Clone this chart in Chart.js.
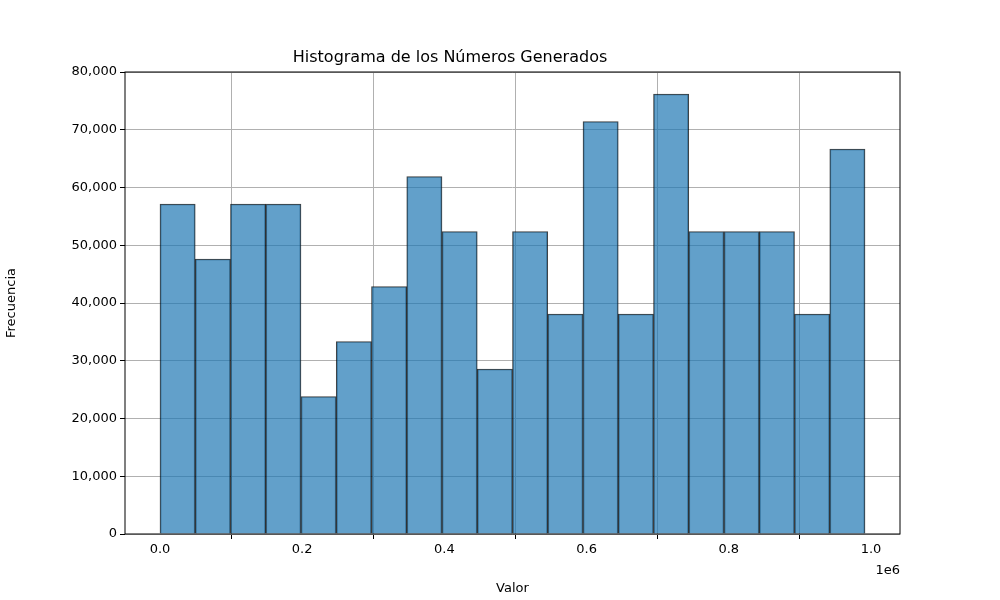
<!DOCTYPE html>
<html><head><meta charset="utf-8">
<script src="https://cdn.jsdelivr.net/npm/chart.js@4"></script>
<style>html,body{margin:0;background:#fff}#w{width:1000px;height:600px}</style>
</head><body><div id="w"><canvas id="c"></canvas></div>
<script>
const binStart = 0;
const binWidth = 49580;
const counts = [57143,47619,57143,57143,23810,33333,42857,61905,52381,28571,52381,38095,71429,38095,76190,52381,52381,52381,38095,66667];
const xTicks = [0,200000,400000,600000,800000,1000000];
const yTicks = [0,10000,20000,30000,40000,50000,60000,70000,80000];
const points = counts.map((v,i)=>({x: binStart + binWidth*(i+0.5), y: v}));
const font = {family:'DejaVu Sans', size:13};
const frame = {id:'frame', afterDraw(ch){const a=ch.chartArea,c=ch.ctx;c.save();c.strokeStyle='#000';c.lineWidth=1;c.strokeRect(a.left,a.top,a.right-a.left,a.bottom-a.top);
 c.fillStyle='#000';c.font='13px DejaVu Sans';c.textAlign='right';c.fillText('1e6',a.right,574);c.restore();}};
new Chart(document.getElementById('c'),{
 type:'bar',
 data:{datasets:[{data:points,backgroundColor:'rgba(31,119,180,0.7)',borderColor:'rgba(0,0,0,0.75)',borderWidth:1,barPercentage:1,categoryPercentage:1}]},
 options:{responsive:true,maintainAspectRatio:false,animation:false,
  layout:{padding:{left:0,right:100,top:0,bottom:0}},
  plugins:{legend:{display:false},tooltip:{enabled:false},
   title:{display:true,text:'Histograma de los Números Generados',color:'#000',font:{family:'DejaVu Sans',size:16,weight:'normal'},padding:{top:48,bottom:4.8}}},
  scales:{
   x:{type:'linear',min:-49200,max:1040800,offset:false,
    afterBuildTicks(s){s.ticks=xTicks.map(v=>({value:v}));},
    afterFit(s){s.height=66;},
    ticks:{color:'#000',font,callback:v=>(v/1e6).toFixed(1),maxRotation:0},
    grid:{color:'#b0b0b0',tickColor:'#000',tickLength:5},
    border:{display:false},
    title:{display:true,text:'Valor',color:'#000',font,padding:{top:0}}},
   y:{min:0,max:80000,
    afterBuildTicks(s){s.ticks=yTicks.map(v=>({value:v}));},
    afterFit(s){s.width=125;},
    ticks:{color:'#000',font},
    grid:{color:'#b0b0b0',tickColor:'#000',tickLength:5},
    border:{display:false},
    title:{display:true,text:'Frecuencia',color:'#000',font}}
  }},
 plugins:[frame]
});
</script></body></html>
